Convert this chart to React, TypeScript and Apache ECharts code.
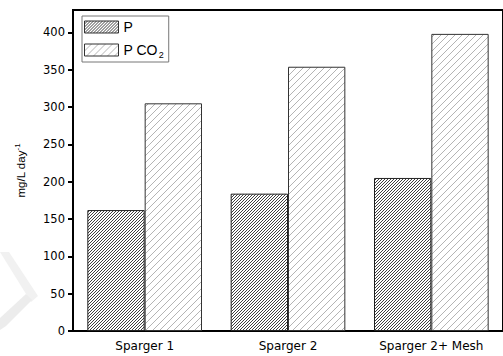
import React, { useEffect, useRef } from "react";
import * as echarts from "echarts";

const categories = ["Sparger 1", "Sparger 2", "Sparger 2+ Mesh"];
const pValues = [162, 184, 205];
const pco2Values = [305, 354, 398];
const yTickValues = [0, 50, 100, 150, 200, 250, 300, 350, 400];
const seriesNames = ["P", "P CO2"];

const FONT = "'DejaVu Sans', 'Liberation Sans', Arial, sans-serif";
const NAME_FONT = "'Liberation Sans', Arial, Helvetica, sans-serif";

// Diagonal "/" hatch tile drawn on a canvas and used as a repeating fill.
function hatch(period: number, lineColor: string, lineWidth: number) {
  const c = document.createElement("canvas");
  c.width = period;
  c.height = period;
  const ctx = c.getContext("2d")!;
  ctx.fillStyle = "#ffffff";
  ctx.fillRect(0, 0, period, period);
  ctx.strokeStyle = lineColor;
  ctx.lineWidth = lineWidth;
  const segs = [
    [0, period, period, 0],
    [-period, period, period, -period],
    [0, 2 * period, 2 * period, 0],
  ];
  for (const [x1, y1, x2, y2] of segs) {
    ctx.beginPath();
    ctx.moveTo(x1, y1);
    ctx.lineTo(x2, y2);
    ctx.stroke();
  }
  return { image: c, repeat: "repeat" as const };
}

export default function App() {
  const ref = useRef<HTMLDivElement>(null);

  useEffect(() => {
    if (!ref.current) return;
    const chart = echarts.init(ref.current, undefined, { renderer: "svg" });
    const darkHatch = hatch(3, "#2a2a2a", 0.9);
    const lightHatch = hatch(7, "#b4b4b4", 1);

    chart.setOption({
      animation: false,
      backgroundColor: "#ffffff",
      textStyle: { fontFamily: FONT },
      // faint background watermark strokes in the lower-left margin
      graphic: [
        {
          type: "polygon",
          silent: true,
          z: -10,
          shape: { points: [[0, 252], [9, 252], [38, 296], [31, 302]] },
          style: { fill: "#f1f1f1" },
        },
        {
          type: "polygon",
          silent: true,
          z: -10,
          shape: { points: [[0, 318], [26, 294], [32, 300], [6, 326], [0, 330]] },
          style: { fill: "#ececec" },
        },
      ],
      grid: {
        left: 73,
        top: 10,
        bottom: 25,
        width: 436,
        show: true,
        borderColor: "#000",
        borderWidth: 2,
        backgroundColor: "transparent",
      },
      legend: {
        orient: "vertical",
        left: 82,
        top: 16,
        icon: "rect",
        itemWidth: 34,
        itemHeight: 12,
        itemGap: 7,
        padding: [4, 5, 3, 2],
        borderColor: "#777",
        borderWidth: 1,
        selectedMode: false,
        data: seriesNames,
        itemStyle: { borderColor: "#333", borderWidth: 1 },
        formatter: (name: string) =>
          name === "P CO2" ? "{t|P CO}{sub|2}" : "{t|" + name + "}",
        textStyle: {
          color: "#000",
          fontFamily: NAME_FONT,
          rich: {
            t: { fontSize: 14, lineHeight: 12, fontFamily: NAME_FONT, color: "#000" },
            sub: {
              fontSize: 9,
              lineHeight: 12,
              fontFamily: NAME_FONT,
              color: "#000",
              padding: [9, 0, 0, 1],
            },
          },
        },
      },
      xAxis: {
        type: "category",
        data: categories,
        axisLine: { lineStyle: { color: "#000", width: 2 } },
        axisTick: {
          alignWithLabel: true,
          length: 6,
          lineStyle: { color: "#000", width: 2 },
        },
        axisLabel: {
          color: "#000",
          fontSize: 12,
          fontFamily: FONT,
          margin: 9,
        },
        splitLine: { show: false },
      },
      yAxis: {
        type: "value",
        min: 0,
        max: 430,
        interval: 50,
        name: "{m|mg/L day}{sup|-1}",
        nameLocation: "middle",
        nameRotate: 90,
        nameGap: 44,
        nameTextStyle: {
          rich: {
            m: { fontSize: 11.5, fontFamily: NAME_FONT, color: "#000" },
            sup: {
              fontSize: 8,
              fontFamily: NAME_FONT,
              color: "#000",
              padding: [0, 0, 8, 0],
            },
          },
        },
        axisLine: { show: true, lineStyle: { color: "#000", width: 2 } },
        axisTick: {
          show: true,
          length: 5,
          customValues: yTickValues,
          lineStyle: { color: "#000", width: 2 },
        },
        axisLabel: {
          color: "#000",
          fontSize: 11.5,
          fontFamily: FONT,
          margin: 8,
          customValues: yTickValues,
        },
        splitLine: { show: false },
      },
      series: [
        {
          name: seriesNames[0],
          type: "bar",
          data: pValues,
          barGap: "0%",
          barCategoryGap: "20%",
          itemStyle: { color: darkHatch, borderColor: "#222", borderWidth: 1 },
        },
        {
          name: seriesNames[1],
          type: "bar",
          data: pco2Values,
          barGap: "0%",
          barCategoryGap: "20%",
          itemStyle: { color: lightHatch, borderColor: "#333", borderWidth: 1 },
        },
      ],
    });

    return () => chart.dispose();
  }, []);

  return (
    <div
      ref={ref}
      style={{
        position: "fixed",
        left: 0,
        top: 0,
        width: 503,
        height: 356,
        background: "#fff",
      }}
    />
  );
}
